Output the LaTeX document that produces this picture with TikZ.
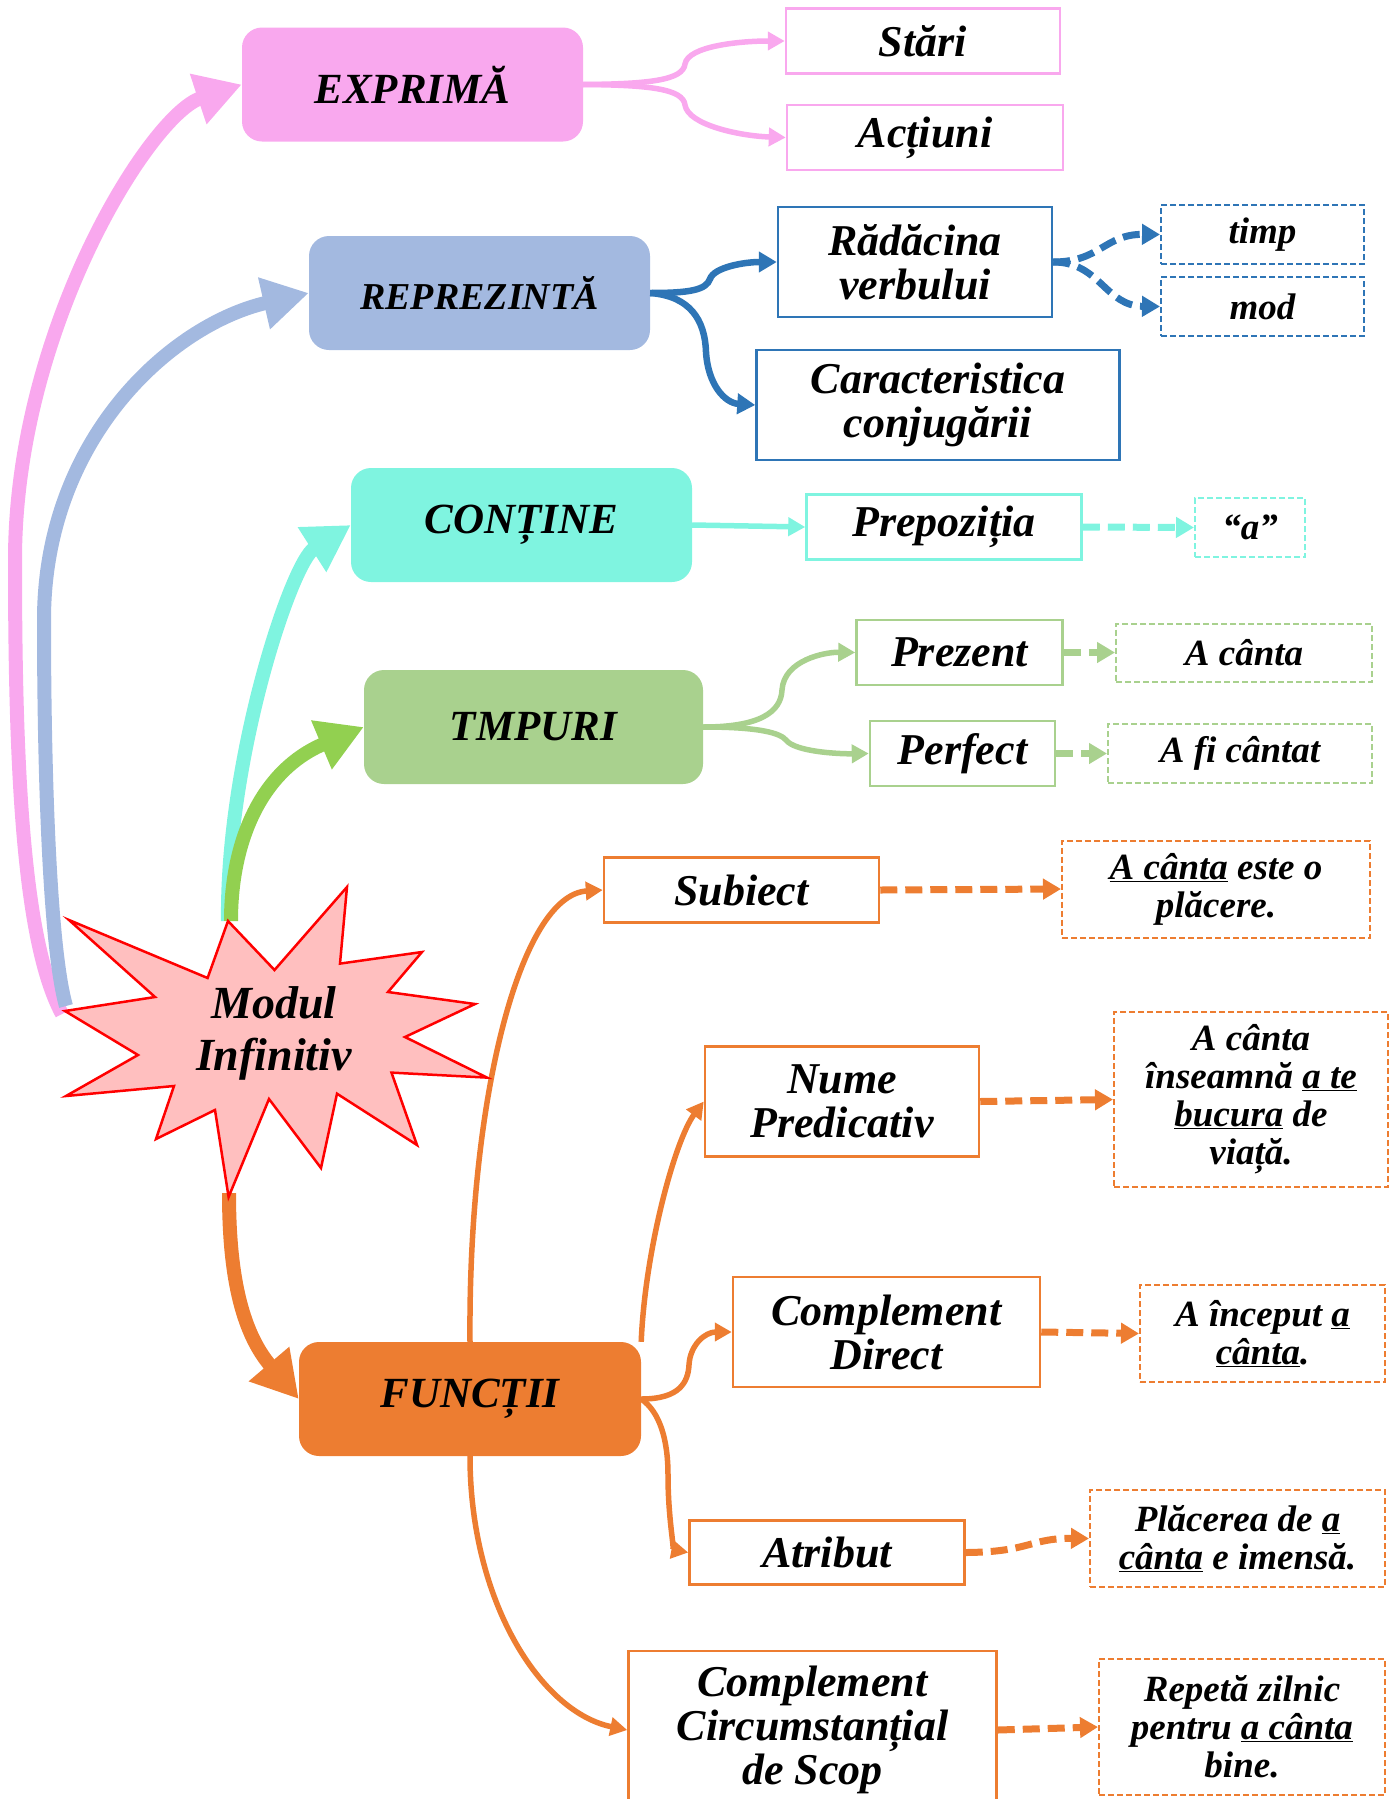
\documentclass[tikz,border=0pt]{standalone}
\usepackage{fontspec}
\setmainfont{Liberation Serif}
\usetikzlibrary{arrows.meta}
\definecolor{pk}{RGB}{249,168,238}
\definecolor{bg}{RGB}{163,185,224}
\definecolor{cy}{RGB}{127,244,224}
\definecolor{gr}{RGB}{169,209,142}
\definecolor{grd}{RGB}{146,208,80}
\definecolor{orn}{RGB}{237,125,49}
\definecolor{bld}{RGB}{46,117,182}
\definecolor{starf}{RGB}{255,191,191}
\newcommand{\fbig}{\bfseries\itshape\fontsize{43}{46}\selectfont}
\newcommand{\fbigR}{\bfseries\itshape\fontsize{38}{40}\selectfont}
\newcommand{\fmid}{\bfseries\itshape\fontsize{44}{44}\selectfont}
\newcommand{\fsml}{\bfseries\itshape\fontsize{37}{38}\selectfont}
\newcommand{\fstar}{\bfseries\itshape\fontsize{46}{52}\selectfont}
\newcommand{\ul}[1]{\underline{#1}}
\begin{document}
\begin{tikzpicture}[x=1pt,y=-1pt,
  sz/.style 2 args={minimum width=#1pt, minimum height=#2pt},
  bigbox/.style={rounded corners=20pt, inner sep=0pt, font=\fbig, text=black},
  sbox/.style={draw, line width=2.5pt, fill=white, inner sep=0pt, font=\fmid, align=center},
  dbox/.style={draw, line width=2pt, dash pattern=on 6pt off 3pt, fill=white, inner sep=0pt, font=\fsml, align=center},
  mainarr/.style={line width=14pt, -{Triangle[length=46pt,width=50pt]}},
  sec/.style={line width=5.5pt, -{Triangle[length=17pt,width=18pt]}},
  secb/.style={line width=6.5pt, -{Triangle[length=18pt,width=20pt]}},
  dsh/.style={line width=7pt, dash pattern=on 17pt off 8pt, -{Triangle[length=18pt,width=20pt]}}
]
\useasboundingbox (0,0) rectangle (1390,1799);

% main boxes
\node[bigbox, fill=pk, sz={341}{114}] (exprima) at (412.5,84.5) {EXPRIMĂ};
\node[bigbox, fill=bg, sz={341}{114}, font=\fbigR] (repr) at (479.5,293) {REPREZINTĂ};
\node[bigbox, fill=cy, sz={341}{114}] (contine) at (521.5,525) {CONȚINE};
\node[bigbox, fill=gr, sz={339}{114}] (timpuri) at (533.5,727) {TMPURI};
\node[bigbox, fill=orn, sz={342}{114}] (functii) at (470,1399) {FUNCȚII};

% second level
\node[sbox, draw=pk, sz={274}{65}] (stari) at (923,41) {Stări};
\node[sbox, draw=pk, sz={276}{65}] (actiuni) at (925,137.5) {Acțiuni};
\node[sbox, draw=bld, sz={274}{110}] (radacina) at (915,262) {Rădăcina\\verbului};
\node[sbox, draw=bld, sz={363}{110}] (caract) at (938,405) {Caracteristica\\conjugării};
\node[sbox, draw=cy, sz={275}{65}] (prep) at (944,527) {Prepoziția};
\node[sbox, draw=gr, sz={206}{65}] (prezent) at (959.5,652.5) {Prezent};
\node[sbox, draw=gr, sz={185}{65}] (perfect) at (962.5,753.5) {Perfect};
\node[sbox, draw=orn, sz={275}{65}] (subiect) at (741.5,890) {Subiect};
\node[sbox, draw=orn, sz={274}{110}] (nume) at (842,1101.5) {Nume\\Predicativ};
\node[sbox, draw=orn, sz={307}{110}] (cd) at (886.5,1332) {Complement\\Direct};
\node[sbox, draw=orn, sz={275}{64}] (atribut) at (827,1552.5) {Atribut};
\node[sbox, draw=orn, sz={368}{158}] (ccs) at (812.5,1730) {Complement\\Circumstanțial\\de Scop};

% third level (dashed)
\node[dbox, draw=bld, sz={203}{59}] (timp) at (1262.5,234.5) {timp};
\node[dbox, draw=bld, sz={203}{59}] (mod) at (1262.5,306.5) {mod};
\node[dbox, draw=cy, sz={110}{59}] (aq) at (1250,527.5) {“a”};
\node[dbox, draw=gr, sz={256}{58}] (acanta) at (1244,652.5) {A cânta};
\node[dbox, draw=gr, sz={264}{59}] (afi) at (1240,753.5) {A fi cântat};
\node[dbox, draw=orn, sz={308}{97}] (ex1) at (1216,889) {\ul{A cânta} este o\\plăcere.};
\node[dbox, draw=orn, sz={274}{175}] (ex2) at (1251,1099.5) {A cânta\\înseamnă \ul{a te}\\\ul{bucura} de\\viață.};
\node[dbox, draw=orn, sz={245}{97}] (ex3) at (1262.5,1333.5) {A început \ul{a}\\\ul{cânta}.};
\node[dbox, draw=orn, sz={295}{97}] (ex4) at (1237.5,1538.5) {Plăcerea de \ul{a}\\\ul{cânta} e imensă.};
\node[dbox, draw=orn, sz={286}{136}] (ex5) at (1242,1727) {Repetă zilnic\\pentru \ul{a cânta}\\bine.};

% star anchor points
\coordinate (sleftA) at (62,1014);
\coordinate (sleftB) at (66,1006);
\coordinate (stopC) at (228,921);
\coordinate (stopG) at (231,921);
\coordinate (sbot) at (229,1193);

% main connectors
\draw[mainarr, pk] (sleftA) .. controls (22,940) and (15,760) .. (15,560) .. controls (15,330) and (150,115) .. (exprima.west);
\draw[mainarr, bg] (sleftB) .. controls (50,950) and (44,780) .. (44,620) .. controls (44,440) and (170,325) .. (repr.west);
\draw[mainarr, cy] (stopC) .. controls (226,760) and (291,563) .. (contine.west);
\draw[mainarr, grd] (stopG) .. controls (231,840) and (262,770) .. (timpuri.west);
\draw[mainarr, orn] (sbot) .. controls (229,1270) and (240,1330) .. (functii.west);

% pink
\draw[sec, pk] (exprima.east) .. controls (650,84) and (683,80) .. (685,64) .. controls (688,46) and (740,41) .. (stari.west);
\draw[sec, pk] (exprima.east) .. controls (650,85) and (683,89) .. (685,105) .. controls (688,125) and (740,136) .. (actiuni.west);
% blue
\draw[secb, bld] (repr.east) .. controls (690,293) and (706,290) .. (710,279) .. controls (714,267) and (745,262) .. (radacina.west);
\draw[secb, bld] (repr.east) .. controls (690,296) and (705,320) .. (706,352) .. controls (708,385) and (725,403) .. (caract.west);
\draw[dsh, bld] (radacina.east) .. controls (1100,262) and (1105,234) .. (timp.west);
\draw[dsh, bld] (radacina.east) .. controls (1100,262) and (1105,306) .. (mod.west);
% cyan
\draw[sec, cy] (contine.east) -- (prep.west);
\draw[dsh, cy] (prep.east) -- (aq.west);
% green
\draw[sec, gr] (timpuri.east) .. controls (760,727) and (781,712) .. (782,690) .. controls (784,660) and (825,652) .. (prezent.west);
\draw[sec, gr] (timpuri.east) .. controls (760,727) and (780,733) .. (786,740) .. controls (795,752) and (840,754) .. (perfect.west);
\draw[dsh, gr] (prezent.east) -- (acanta.west);
\draw[dsh, gr] (perfect.east) -- (afi.west);
% orange
\draw[sec, orn] (functii.north) .. controls (468,1100) and (520,895) .. (subiect.west);
\draw[sec, orn] (functii.north east) .. controls (645,1250) and (675,1140) .. (nume.west);
\draw[sec, orn] (functii.east) .. controls (680,1399) and (688,1382) .. (689,1365) .. controls (690,1345) and (705,1332) .. (cd.west);
\draw[sec, orn] (functii.east) .. controls (660,1412) and (668,1440) .. (668,1475) .. controls (668,1520) and (675,1550) .. (atribut.west);
\draw[sec, orn] (functii.south) .. controls (470,1600) and (540,1712) .. (ccs.west);
\draw[dsh, orn] (subiect.east) -- (ex1.west);
\draw[dsh, orn] (nume.east) -- (ex2.west);
\draw[dsh, orn] (cd.east) -- (ex3.west);
\draw[dsh, orn] (atribut.east) .. controls (1030,1552) and (1030,1538) .. (ex4.west);
\draw[dsh, orn] (ccs.east) -- (ex5.west);

% star
\draw[fill=starf, draw=red, line width=2.5pt, line join=miter]
  (69,920) -- (207.6,978) -- (228,921) -- (274.5,970) -- (347,887) -- (340,963.6)
  -- (422,952) -- (388,992) -- (475,1004) -- (405,1037) -- (487,1077.6) -- (391.5,1072.6)
  -- (417,1145) -- (337,1093.7) -- (321,1168) -- (269,1099) -- (228.6,1197) -- (215,1110)
  -- (156,1139) -- (174,1086) -- (66,1096) -- (138,1055) -- (65,1011) -- (155,997) -- cycle;
\node[font=\fstar, align=center, inner sep=0pt] (star) at (274,1033) {Modul\\Infinitiv};
\end{tikzpicture}
\end{document}
